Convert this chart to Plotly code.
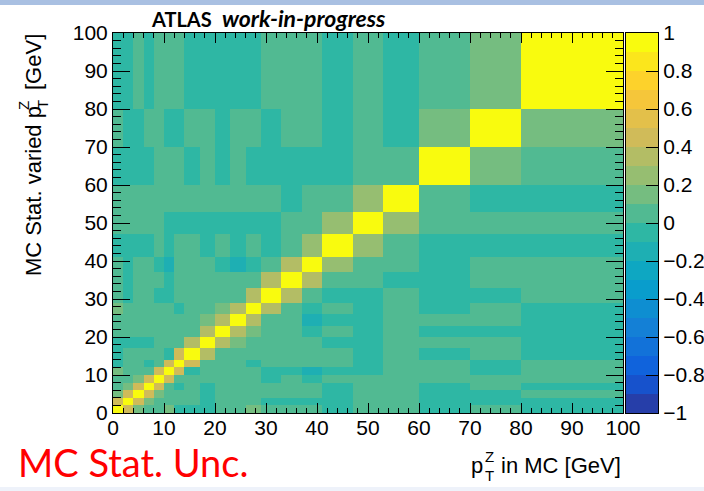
import plotly.graph_objects as go

# pT(Z) bin edges in GeV (shared by both axes)
pt_edges = [0, 2, 4, 6, 8, 10, 12, 14, 17, 20, 23, 26, 29, 33, 37, 41, 47, 53, 60, 70, 80, 100]

# Correlation coefficients: row = varied-bin (y), column = MC bin (x)
corr = [
    [1.00, 0.45, 0.15, 0.05, 0.05, 0.15, -0.05, -0.05, -0.05, 0.05, 0.05, 0.15, 0.05, 0.05, 0.05, -0.05, 0.05, 0.05, -0.05, 0.05, -0.05],
    [0.45, 1.00, 0.45, 0.15, 0.05, 0.05, 0.05, 0.05, -0.05, 0.05, 0.05, 0.05, -0.05, -0.05, -0.05, -0.05, 0.05, 0.05, -0.05, -0.05, -0.05],
    [0.15, 0.45, 1.00, 0.45, 0.15, 0.05, 0.05, 0.05, -0.05, 0.05, 0.05, 0.05, 0.05, 0.05, 0.05, -0.05, 0.05, 0.05, -0.05, -0.05, 0.05],
    [0.05, 0.15, 0.45, 1.00, 0.45, 0.05, -0.05, 0.05, -0.05, 0.05, 0.05, 0.05, 0.05, 0.05, 0.05, -0.05, 0.05, 0.05, -0.05, 0.05, -0.05],
    [0.05, 0.05, 0.15, 0.45, 1.00, 0.45, 0.05, 0.05, 0.05, 0.05, 0.05, 0.05, -0.05, 0.05, -0.05, 0.05, 0.05, 0.05, 0.05, 0.05, 0.05],
    [0.15, 0.05, 0.05, 0.05, 0.45, 1.00, 0.45, -0.05, 0.05, 0.05, 0.05, 0.05, -0.05, -0.05, -0.15, -0.05, -0.05, 0.05, 0.05, -0.05, 0.05],
    [-0.05, 0.05, 0.05, -0.05, 0.05, 0.45, 1.00, 0.45, 0.05, 0.05, 0.05, -0.05, 0.05, 0.05, 0.05, 0.05, -0.05, 0.05, 0.05, -0.05, 0.05],
    [-0.05, 0.05, 0.05, 0.05, 0.05, -0.05, 0.45, 1.00, 0.35, 0.05, 0.05, 0.05, 0.05, 0.05, 0.05, 0.05, -0.05, 0.05, -0.05, 0.05, -0.05],
    [-0.05, -0.05, -0.05, -0.05, 0.05, 0.05, 0.05, 0.35, 1.00, 0.35, 0.15, 0.05, 0.05, 0.05, 0.05, -0.05, -0.05, 0.05, 0.05, 0.05, -0.05],
    [0.05, 0.05, 0.05, 0.05, 0.05, 0.05, 0.05, 0.05, 0.35, 1.00, 0.35, 0.15, 0.05, 0.05, -0.05, 0.05, -0.05, 0.05, -0.05, -0.05, -0.05],
    [0.05, 0.05, 0.05, 0.05, 0.05, 0.05, 0.05, 0.05, 0.15, 0.35, 1.00, 0.35, 0.05, 0.05, -0.15, -0.05, -0.05, 0.05, 0.05, 0.05, -0.05],
    [0.15, 0.05, 0.05, 0.05, 0.05, 0.05, -0.05, 0.05, 0.05, 0.15, 0.35, 1.00, 0.35, 0.05, -0.05, 0.05, -0.05, 0.05, -0.05, 0.05, -0.05],
    [0.05, -0.05, 0.05, 0.05, -0.05, -0.05, 0.05, 0.05, 0.05, 0.05, 0.05, 0.35, 1.00, 0.35, 0.05, -0.05, -0.05, 0.05, -0.05, -0.05, 0.05],
    [0.05, -0.05, 0.05, 0.05, 0.05, -0.05, 0.05, 0.05, 0.05, 0.05, 0.05, 0.05, 0.35, 1.00, 0.35, 0.05, 0.05, -0.05, -0.05, 0.05, 0.05],
    [0.05, -0.05, 0.05, 0.05, -0.05, -0.15, 0.05, 0.05, 0.05, -0.05, -0.15, -0.05, 0.05, 0.35, 1.00, 0.25, 0.05, 0.05, -0.05, 0.05, 0.05],
    [-0.05, -0.05, -0.05, -0.05, 0.05, -0.05, 0.05, 0.05, -0.05, 0.05, -0.05, 0.05, -0.05, 0.05, 0.25, 1.00, 0.25, 0.05, -0.05, -0.05, -0.05],
    [0.05, 0.05, 0.05, 0.05, 0.05, -0.05, -0.05, -0.05, -0.05, -0.05, -0.05, -0.05, -0.05, 0.05, 0.05, 0.25, 1.00, 0.25, 0.05, 0.05, 0.05],
    [0.05, 0.05, 0.05, 0.05, 0.05, 0.05, 0.05, 0.05, 0.05, 0.05, 0.05, 0.05, 0.05, -0.05, 0.05, 0.05, 0.25, 1.00, 0.05, -0.05, -0.05],
    [-0.05, -0.05, -0.05, -0.05, 0.05, 0.05, 0.05, -0.05, 0.05, -0.05, 0.05, -0.05, -0.05, -0.05, -0.05, -0.05, 0.05, 0.05, 1.00, 0.15, 0.05],
    [0.05, -0.05, -0.05, 0.05, 0.05, -0.05, -0.05, 0.05, 0.05, -0.05, 0.05, 0.05, -0.05, 0.05, 0.05, -0.05, 0.05, -0.05, 0.15, 1.00, 0.15],
    [-0.05, -0.05, 0.05, -0.05, 0.05, 0.05, 0.05, -0.05, -0.05, -0.05, -0.05, -0.05, 0.05, 0.05, 0.05, -0.05, 0.05, -0.05, 0.05, 0.15, 1.00],
]

axis_ticks = [0, 10, 20, 30, 40, 50, 60, 70, 80, 90, 100]
cbar_ticks = [-1, -0.8, -0.6, -0.4, -0.2, 0, 0.2, 0.4, 0.6, 0.8, 1]
# contour levels of the colour palette (20 bands from -1 to 1)
palette_levels = [-1.0, -0.9, -0.8, -0.7, -0.6, -0.5, -0.4, -0.3, -0.2, -0.1, 0.0,
                  0.1, 0.2, 0.3, 0.4, 0.5, 0.6, 0.7, 0.8, 0.9, 1.0]

# ROOT "bird" palette, sampled into discrete contour bands
bird_stops = [0.0, 0.125, 0.25, 0.375, 0.5, 0.625, 0.75, 0.875, 1.0]
bird_r = [0.2082, 0.0592, 0.0780, 0.0232, 0.1802, 0.5301, 0.8186, 0.9956, 0.9764]
bird_g = [0.1664, 0.3599, 0.5041, 0.6419, 0.7178, 0.7492, 0.7328, 0.7862, 0.9832]
bird_b = [0.5293, 0.8684, 0.8385, 0.7914, 0.6425, 0.4662, 0.3499, 0.1968, 0.0539]


def bird(p):
    p = min(max(p, 0.0), 1.0)
    for k in range(len(bird_stops) - 1):
        a, b = bird_stops[k], bird_stops[k + 1]
        if p <= b:
            t = (p - a) / (b - a)
            rgb = [c[k] + t * (c[k + 1] - c[k]) for c in (bird_r, bird_g, bird_b)]
            return "rgb({},{},{})".format(*[int(round(255 * v)) for v in rgb])
    return "rgb(249,251,14)"


n_bands = len(palette_levels) - 1
colorscale = []
for k in range(n_bands):
    col = bird((k + 0.99) / n_bands)
    colorscale.append([k / n_bands, col])
    colorscale.append([(k + 1) / n_bands, col])

# palette strip: one cell per contour band, coloured by its central level
band_centres = [[(lo + hi) / 2] for lo, hi in zip(palette_levels[:-1], palette_levels[1:])]

# frame of the plot in pixels; the paper spans from the left margin to the right edge
W, H = 704, 491
FX0, FX1, FY0, FY1 = 113, 623, 33, 413
PAPER_W = W - FX0
CB0, CB1 = 626, 658  # palette strip


def px(x):
    return (x - FX0) / PAPER_W


def py(y):
    return (FY1 - y) / (FY1 - FY0)


LAB = "Liberation Sans"

fig = go.Figure()
fig.add_trace(go.Heatmap(
    x=pt_edges, y=pt_edges, z=corr, zmin=-1, zmax=1,
    colorscale=colorscale, showscale=False, hoverinfo="skip",
    xaxis="x", yaxis="y",
))
fig.add_trace(go.Heatmap(
    x=[0, 1], y=palette_levels, z=band_centres, zmin=-1, zmax=1,
    colorscale=colorscale, showscale=False, hoverinfo="skip",
    xaxis="x2", yaxis="y2",
))

axis_common = dict(
    range=[0, 100],
    tickmode="array",
    tickvals=axis_ticks,
    ticks="inside",
    tickcolor="black",
    tickwidth=1,
    showline=True,
    linecolor="black",
    linewidth=1,
    mirror="allticks",
    showgrid=False,
    zeroline=False,
    tickfont=dict(family=LAB, size=21, color="black"),
)

fig.update_layout(
    xaxis=dict(**axis_common, ticklen=10, domain=[0, px(FX1)], anchor="y", ticklabelstandoff=-4,
               minor=dict(ticks="inside", ticklen=5, dtick=2, tick0=0, tickcolor="black", showgrid=False)),
    yaxis=dict(**axis_common, ticklen=17, domain=[0, 1], anchor="x",
               minor=dict(ticks="inside", ticklen=8, dtick=2, tick0=0, tickcolor="black", showgrid=False)),
    xaxis2=dict(domain=[px(CB0), px(CB1)], range=[0, 1], anchor="y2", showticklabels=False,
                ticks="", showline=True, linecolor="black", linewidth=1, mirror=True,
                showgrid=False, zeroline=False),
    yaxis2=dict(domain=[0, 1], range=[-1, 1], anchor="x2", side="right",
                tickmode="array", tickvals=cbar_ticks, ticks="inside", ticklen=12,
                tickcolor="black", tickwidth=1, showline=True, linecolor="black", linewidth=1,
                mirror=True, showgrid=False, zeroline=False,
                tickfont=dict(family=LAB, size=21, color="black")),
)

ann = []


def text(t, x, y, size, xa="center", ya="middle", angle=0, family=LAB, color="black"):
    ann.append(dict(text=t, x=x, y=y, xref="paper", yref="paper", xanchor=xa, yanchor=ya,
                    textangle=angle, showarrow=False, borderpad=0,
                    font=dict(family=family, size=size, color=color)))


# experiment label
text("<b>ATLAS</b>  <b><i><span style='font-size:23px'>work-in-progress</span></i></b>",
     px(150), py(18), 20, xa="left", family="Lato")
# uncertainty label
text("MC Stat. Unc.", px(17), py(462), 38, xa="left", family="Lato", color="#ff0000")

# x-axis title with stacked sub/superscript
text("in MC [GeV]", px(622), py(465), 22, xa="right")
text("p", px(484), py(465), 22, xa="right")
text("Z", px(490), py(456), 15)
text("T", px(490), py(475), 15)

# y-axis title with stacked sub/superscript
text("MC Stat. varied p", px(33), py(277), 22, ya="bottom", angle=-90)
text("[GeV]", px(33), py(33), 22, ya="top", angle=-90)
text("Z", px(23), py(105), 15, angle=-90)
text("T", px(42), py(105), 15, angle=-90)

shapes = [
    dict(type="rect", xref="paper", yref="paper", x0=px(0), x1=px(W), y0=py(0), y1=py(5),
         fillcolor="#a9c0e2", line=dict(width=0), layer="below"),
    dict(type="rect", xref="paper", yref="paper", x0=px(0), x1=px(W), y0=py(487), y1=py(H),
         fillcolor="#eef2fa", line=dict(width=0), layer="below"),
]

fig.update_layout(
    width=W,
    height=H,
    margin=dict(l=FX0, r=0, t=FY0, b=H - FY1, pad=0, autoexpand=False),
    paper_bgcolor="white",
    plot_bgcolor="white",
    annotations=ann,
    shapes=shapes,
    showlegend=False,
)

fig.write_html("out.html")
